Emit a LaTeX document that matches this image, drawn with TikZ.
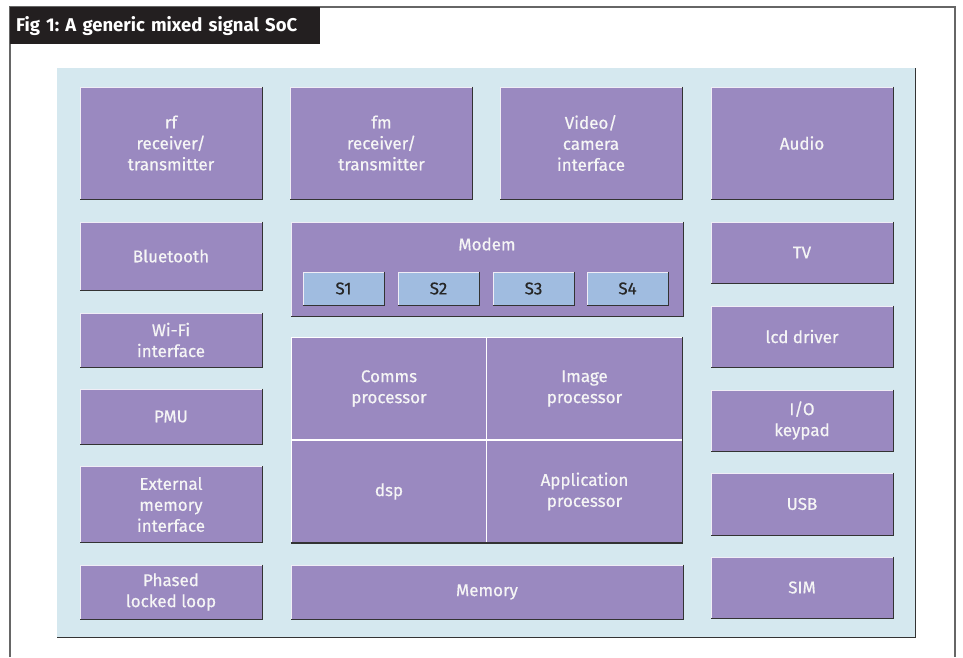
\documentclass[tikz,border=0pt]{standalone}
\usepackage{fontspec}
\setmainfont{Fira Sans}
\newfontfamily\boxfont[FakeBold=0.6]{Fira Sans}
\definecolor{blockfill}{HTML}{9A89C0}
\definecolor{panelfill}{HTML}{D5E8EF}
\definecolor{subfill}{HTML}{A0BCE0}
\definecolor{titlebar}{HTML}{231F20}
\definecolor{edgegrey}{HTML}{333333}
\tikzset{
  block/.style={fill=blockfill,draw=white!85!blockfill,line width=0.6pt,
    text=white!96!black,align=center,inner sep=0pt,
    font=\boxfont\fontsize{17}{21}\selectfont},
  subblock/.style={block,fill=subfill,text=black!85,minimum width=81pt,minimum height=33pt},
  shadowline/.style={draw=edgegrey,line width=1.2pt}
}
\begin{document}
\frenchspacing
\begin{tikzpicture}[x=1pt,y=-1pt] % generic mixed signal SoC
  \useasboundingbox (0,0) rectangle (963,657);
  % frame and title
  \draw[gray!80!black,line width=1.5pt] (10,657) -- (10,7) -- (955,7) -- (955,657);
  \node[fill=titlebar,text=white,anchor=north west,minimum width=310pt,minimum height=37pt,
    inner sep=0pt,text width=298pt,font=\bfseries\fontsize{18.5}{20}\selectfont] (title) at (10,7)
    {Fig 1: A generic mixed signal SoC};
  \node[fill=panelfill,anchor=north west,minimum width=858pt,minimum height=569pt,inner sep=0pt] (panel) at (57,68) {};
  \draw[shadowline] (panel.north east) -- (panel.south east) -- (panel.south west);
  % top row
  \node[block,minimum width=182pt,minimum height=112pt] (rf) at (171,143) {rf\\receiver/\\transmitter};
  \node[block,minimum width=182pt,minimum height=112pt] (fm) at (381.5,143) {fm\\receiver/\\transmitter};
  \node[block,minimum width=182pt,minimum height=112pt] (video) at (591,143) {Video/\\camera\\interface};
  \node[block,minimum width=182pt,minimum height=112pt] (audio) at (802,143) {Audio};
  % left column
  \node[block,minimum width=182pt,minimum height=68pt] (bluetooth) at (171,256) {Bluetooth};
  \node[block,minimum width=182pt,minimum height=54pt] (wifi) at (171,340) {Wi-Fi\\interface};
  \node[block,minimum width=182pt,minimum height=55pt] (pmu) at (171,416.5) {PMU};
  \node[block,minimum width=182pt,minimum height=76pt] (extmem) at (171,504.5) {External\\memory\\interface};
  \node[block,minimum width=182pt,minimum height=54pt] (pll) at (171,592) {Phased\\locked loop};
  % middle
  \node[block,minimum width=392pt,minimum height=94pt] (modem) at (487,269) {};
  \node[text=white!96!black,font=\boxfont\fontsize{17}{21}\selectfont] (modemlabel) at (487,244) {Modem};
  \foreach \i/\x in {1/343.5,2/438.5,3/533.5,4/627.5}
    \node[subblock] (s\i) at (\x,288.5) {S\i};
  \node[block,draw=white,minimum width=195.5pt,minimum height=102.5pt] (comms) at (389,388.5) {Comms\\processor};
  \node[block,draw=white,minimum width=195.5pt,minimum height=102.5pt] (image) at (584.5,388.5) {Image\\processor};
  \node[block,draw=white,minimum width=195.5pt,minimum height=102.5pt] (dsp) at (389,491.5) {dsp};
  \node[block,draw=white,minimum width=195.5pt,minimum height=102.5pt] (app) at (584.5,491.5) {Application\\processor};
  \node[block,minimum width=392pt,minimum height=54pt] (memory) at (487,592) {Memory};
  % right column
  \node[block,minimum width=182pt,minimum height=61pt] (tv) at (802,252.5) {TV};
  \node[block,minimum width=182pt,minimum height=61pt] (lcd) at (802,336.5) {lcd driver};
  \node[block,minimum width=182pt,minimum height=61pt] (io) at (802,420.5) {I/O\\keypad};
  \node[block,minimum width=182pt,minimum height=62pt] (usb) at (802,504) {USB};
  \node[block,minimum width=182pt,minimum height=61pt] (sim) at (802,587.5) {SIM};
  % dark lower and right edges
  \foreach \n in {rf,fm,video,audio,bluetooth,wifi,pmu,extmem,pll,modem,s1,s2,s3,s4,memory,tv,lcd,io,usb,sim}
    \draw[shadowline] (\n.north east) -- (\n.south east) -- (\n.south west);
  \draw[shadowline] (image.north east) -- (app.south east) -- (dsp.south west);
\end{tikzpicture}
\end{document}
